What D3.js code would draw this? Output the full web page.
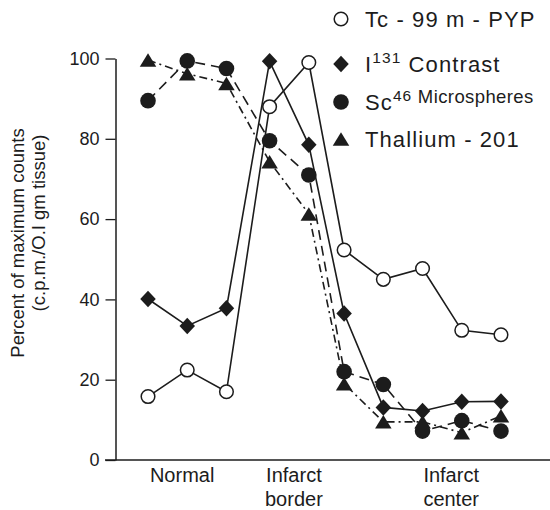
<!DOCTYPE html>
<html>
<head>
<meta charset="utf-8">
<script src="https://cdn.jsdelivr.net/npm/d3@7/dist/d3.min.js"></script>
<style>
  html, body { margin: 0; padding: 0; background: #fff; }
  svg { display: block; font-family: "Liberation Sans", Arial, Helvetica, sans-serif; }
</style>
</head>
<body>
<svg id="chart" width="550" height="510"></svg>
<script>
// ---- data ----
const samplePositions = [1, 2, 3, 4.1, 5.1, 6, 7, 8, 9, 10];
const groupLabels = [["Normal"], ["Infarct", "border"], ["Infarct", "center"]];
const groupLabelAt = [1.87, 4.72, 8.73];
const yTicks = [0, 20, 40, 60, 80, 100];

const tcPyp      = [15.8, 22.4, 17.0, 88.0, 99.0, 52.3, 45.0, 47.7, 32.3, 31.2];
const i131       = [40.1, 33.4, 37.8, 99.3, 78.5, 36.5, 13.1, 12.2, 14.5, 14.6];
const sc46       = [89.5, 99.4, 97.5, 79.5, 71.0, 22.0, 18.8, 7.2, 9.8, 7.2];
const thallium   = [99.6, 96.2, 93.8, 74.3, 61.3, 19.0, 9.5, 9.5, 6.8, 11.0];

const seriesNames = ["Tc - 99 m - PYP", "I131 Contrast", "Sc46 Microspheres", "Thallium - 201"];

// ---- drawing ----
const svg = d3.select("#chart");
const ink = "#1c1c1c";

const x = d3.scaleLinear().domain([0, 11]).range([108.8, 540.2]);
const y = d3.scaleLinear().domain([0, 100]).range([460, 58.5]);

// y axis
const yAxis = d3.axisLeft(y).tickValues(yTicks).tickSize(10).tickSizeOuter(0).tickPadding(6);
const gy = svg.append("g").attr("transform", "translate(115.5,0)").call(yAxis);
gy.select(".domain").attr("stroke", ink).attr("stroke-width", 1.5);
gy.selectAll(".tick line").attr("stroke", ink).attr("stroke-width", 1.3);
gy.selectAll(".tick text").attr("fill", ink).attr("font-size", 18).attr("font-family", "Liberation Sans, Arial, sans-serif");

// x axis line
svg.append("line")
  .attr("x1", 105).attr("x2", 550)
  .attr("y1", y(0)).attr("y2", y(0))
  .attr("stroke", ink).attr("stroke-width", 1.5);

// group labels
groupLabels.forEach((lines, i) => {
  const t = svg.append("text")
    .attr("x", x(groupLabelAt[i]))
    .attr("y", 482)
    .attr("text-anchor", "middle")
    .attr("font-size", 20)
    .attr("fill", ink);
  lines.forEach((ln, j) => {
    t.append("tspan").attr("x", x(groupLabelAt[i])).attr("dy", j === 0 ? 0 : 23.5).text(ln);
  });
});

// y label
svg.append("text")
  .attr("transform", "translate(24,243) rotate(-90)")
  .attr("text-anchor", "middle")
  .attr("font-size", 18.5)
  .attr("fill", ink)
  .text("Percent of maximum counts");
svg.append("text")
  .attr("transform", "translate(45,223) rotate(-90)")
  .attr("text-anchor", "middle")
  .attr("font-size", 18.5)
  .attr("fill", ink)
  .text("(c.p.m./O.I gm tissue)");

// markers
function triPath(w, h) {
  return `M0,${-h/2}L${w/2},${h/2}L${-w/2},${h/2}Z`;
}
function diaPath(w, h) {
  return `M0,${-h/2}L${w/2},0L0,${h/2}L${-w/2},0Z`;
}
function drawMarker(g, kind) {
  if (kind === "open") {
    g.append("circle").attr("r", 6.8).attr("fill", "#fff").attr("stroke", ink).attr("stroke-width", 1.5);
  } else if (kind === "diamond") {
    g.append("path").attr("d", diaPath(15.5, 16.5)).attr("fill", ink);
  } else if (kind === "dot") {
    g.append("circle").attr("r", 7.8).attr("fill", ink);
  } else {
    g.append("path").attr("d", triPath(16.5, 13.5)).attr("fill", ink);
  }
}

const series = [
  { values: tcPyp, kind: "open", dash: null },
  { values: i131, kind: "diamond", dash: null },
  { values: sc46, kind: "dot", dash: "10,6" },
  { values: thallium, kind: "tri", dash: "8,4,2,4" }
];

const line = d3.line().x(d => x(d[0])).y(d => y(d[1]));

// lines first
series.forEach(s => {
  const pts = samplePositions.map((p, i) => [p, s.values[i]]);
  svg.append("path")
    .attr("d", line(pts))
    .attr("fill", "none")
    .attr("stroke", ink)
    .attr("stroke-width", 1.6)
    .attr("stroke-dasharray", s.dash);
});
// then markers
series.forEach(s => {
  samplePositions.forEach((p, i) => {
    const g = svg.append("g").attr("transform", `translate(${x(p)},${y(s.values[i])})`);
    drawMarker(g, s.kind);
  });
});

// legend
const legendRows = [19, 64, 102, 139];
series.forEach((s, i) => {
  const g = svg.append("g").attr("transform", `translate(341,${legendRows[i]})`);
  drawMarker(g, s.kind);
});
function legendText(i) {
  return svg.append("text").attr("x", 365).attr("y", legendRows[i] + 8)
    .attr("font-size", 22).attr("letter-spacing", 1.1).attr("fill", ink);
}
legendText(0).text(seriesNames[0]);
{
  const t = legendText(1);
  t.append("tspan").text("I");
  t.append("tspan").attr("font-size", 15.5).attr("dy", -9).text("131");
  t.append("tspan").attr("dy", 9).text(" Contrast");
}
{
  const t = legendText(2);
  t.append("tspan").text("Sc");
  t.append("tspan").attr("font-size", 15.5).attr("dy", -9).text("46");
  t.append("tspan").attr("font-size", 18.5).attr("letter-spacing", 0.4).attr("dy", 2).text(" Microspheres");
}
legendText(3).text(seriesNames[3]);
</script>
</body>
</html>
